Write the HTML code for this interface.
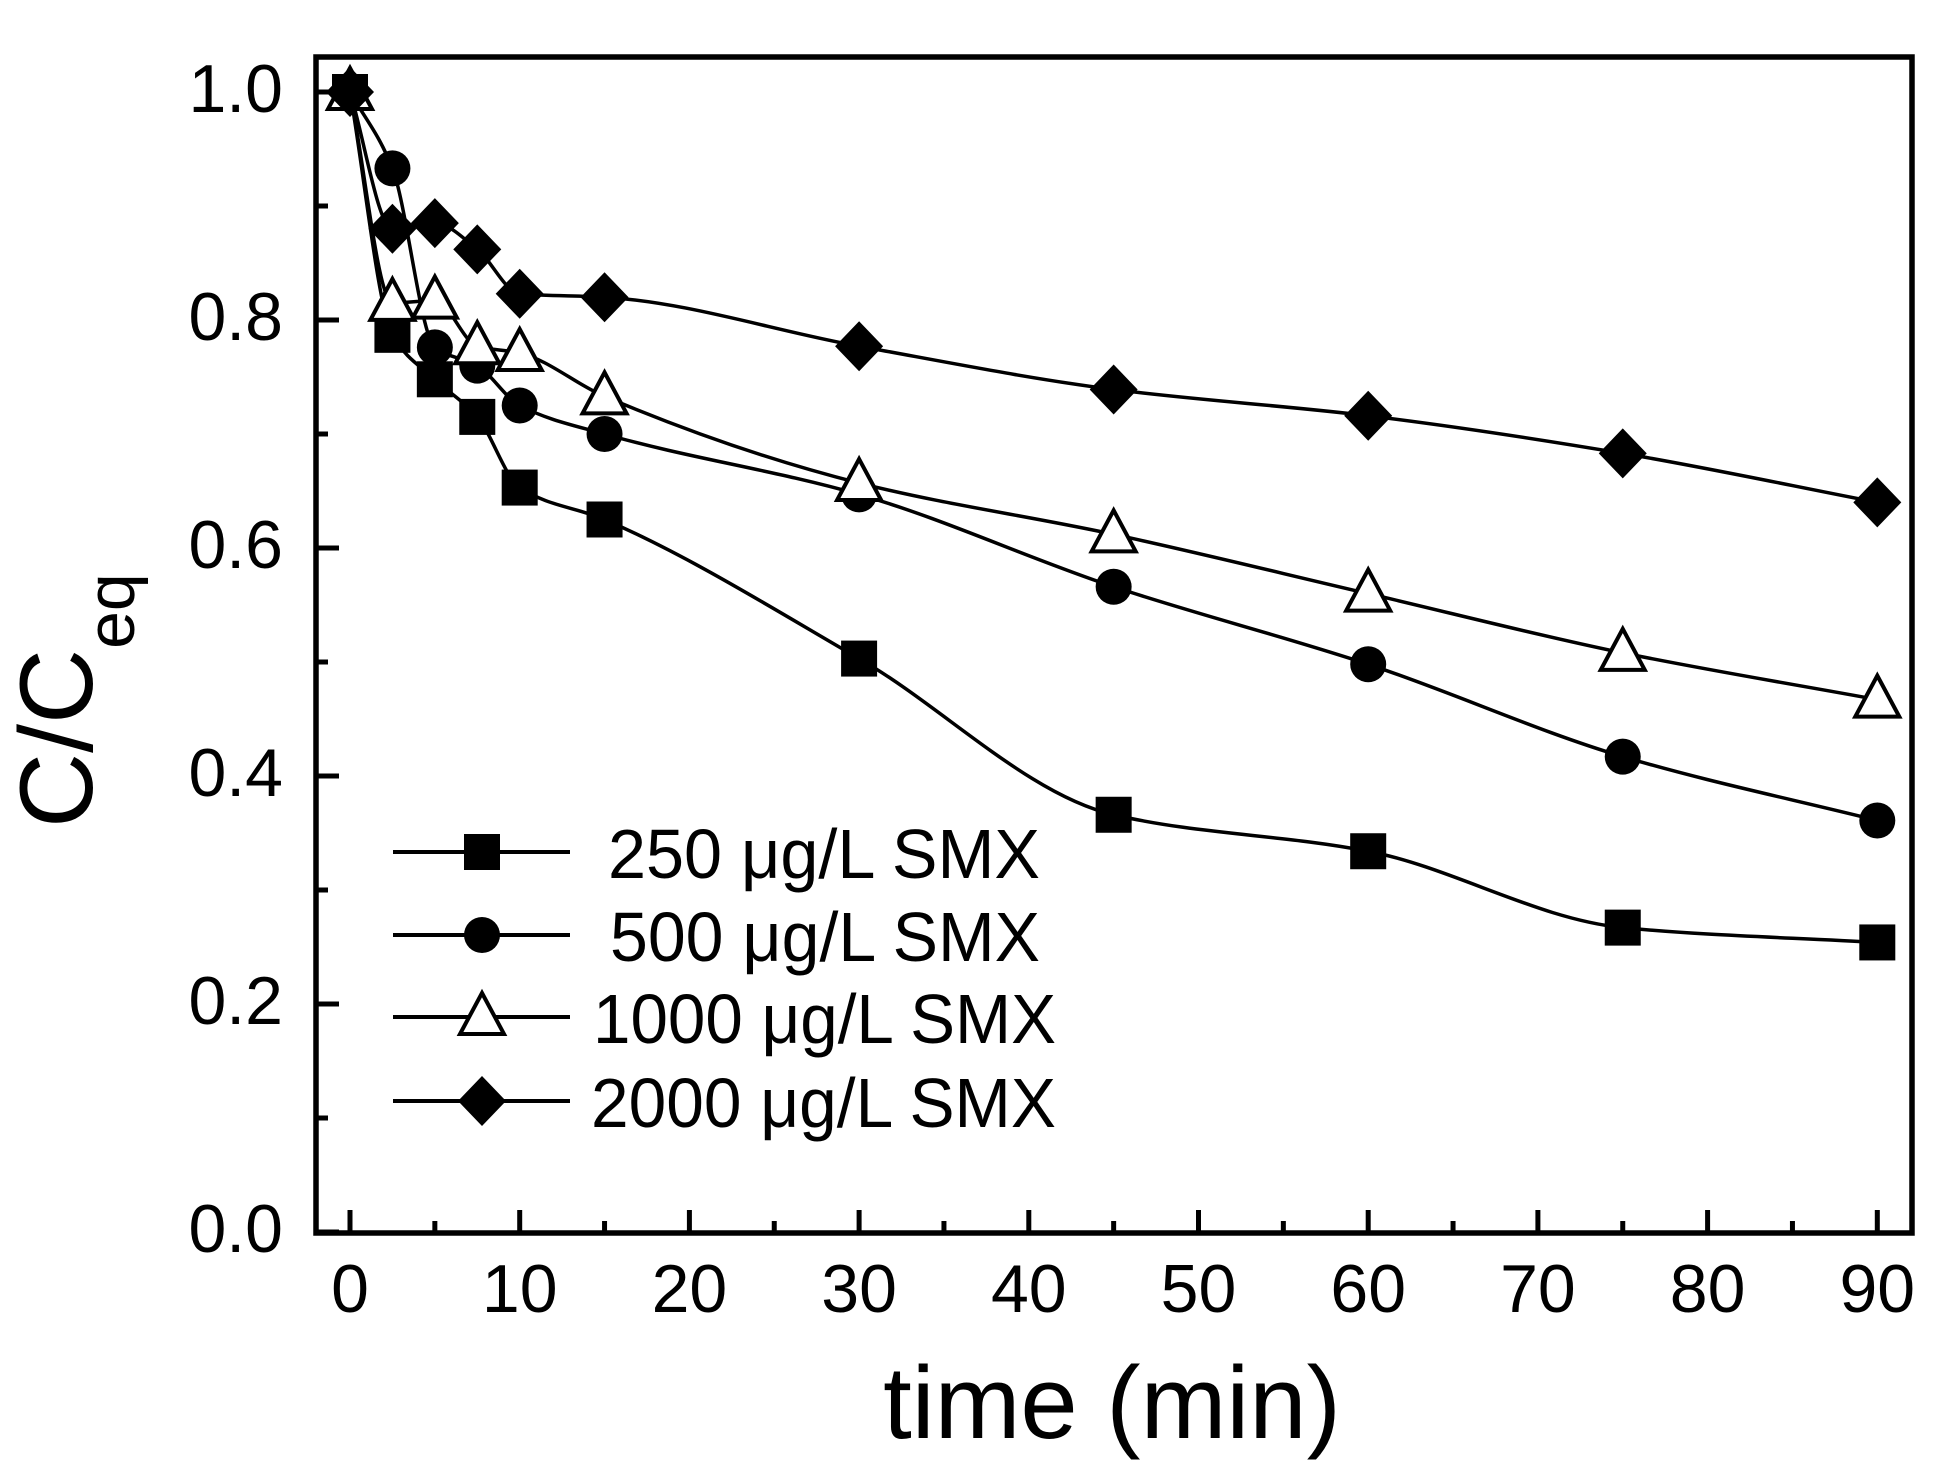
<!DOCTYPE html>
<html><head><meta charset="utf-8"><style>html,body{margin:0;padding:0;background:#fff}svg{display:block}</style></head>
<body>
<svg id="s" width="1942" height="1477" xmlns="http://www.w3.org/2000/svg" font-family="Liberation Sans, Arial, sans-serif">
<rect width="1942" height="1477" fill="#fff"/>
<g id="g"></g>
<rect x="316" y="57" width="1596" height="1176" fill="none" stroke="#000" stroke-width="5.5"/>
<text x="1112" y="1438" font-size="103" text-anchor="middle">time (min)</text>
<text transform="translate(92,828) rotate(-90)" font-size="104">C/C<tspan font-size="68" dy="42">eq</tspan></text>
<g font-size="70">
<text x="608" y="878" textLength="432" lengthAdjust="spacingAndGlyphs">250 μg/L SMX</text>
<text x="610" y="961" textLength="430" lengthAdjust="spacingAndGlyphs">500 μg/L SMX</text>
<text x="593" y="1043" textLength="463" lengthAdjust="spacingAndGlyphs">1000 μg/L SMX</text>
<text x="591" y="1127" textLength="465" lengthAdjust="spacingAndGlyphs">2000 μg/L SMX</text>
</g>
</svg>
<script>
const NS="http://www.w3.org/2000/svg",g=document.getElementById('g');
const X=t=>350+16.97*t, Y=v=>1232-1140*v;
function el(n,a,p){const e=document.createElementNS(NS,n);for(const k in a)e.setAttribute(k,a[k]);(p||g).appendChild(e);return e;}
for(let i=0;i<=10;i++){const y=Y(i/10),L=i%2?12:23;el('line',{x1:316,x2:316+L,y1:y,y2:y,stroke:'#000','stroke-width':5});
 if(i%2==0){const t=el('text',{x:283,y:y+20,'font-size':68,'text-anchor':'end'});t.textContent=(i/10).toFixed(1);}}
for(let i=0;i<=18;i++){const x=X(i*5),L=i%2?12:23;el('line',{x1:x,x2:x,y1:1233,y2:1233-L,stroke:'#000','stroke-width':5});
 if(i%2==0){const t=el('text',{x:x,y:1312,'font-size':68,'text-anchor':'middle'});t.textContent=i*5;}}
const T=[0,2.5,5,7.5,10,15,30,45,60,75,90];
const D=[
 ['sq',[1,0.787,0.748,0.715,0.653,0.625,0.503,0.366,0.334,0.267,0.254]],
 ['ci',[1,0.933,0.776,0.760,0.725,0.700,0.647,0.566,0.498,0.417,0.361]],
 ['tr',[1,0.815,0.817,0.777,0.771,0.733,0.657,0.612,0.560,0.508,0.467]],
 ['di',[1,0.880,0.885,0.862,0.823,0.820,0.777,0.739,0.716,0.683,0.640]]];
function path(P){const n=P.length,dx=[],s=[],m=[];
 for(let i=0;i<n-1;i++){dx[i]=P[i+1][0]-P[i][0];s[i]=(P[i+1][1]-P[i][1])/dx[i];}
 m[0]=s[0];m[n-1]=s[n-2];
 for(let i=1;i<n-1;i++){if(s[i-1]*s[i]<=0)m[i]=0;else{const w1=2*dx[i]+dx[i-1],w2=dx[i]+2*dx[i-1];m[i]=(w1+w2)/(w1/s[i-1]+w2/s[i]);}}
 let d='M'+P[0][0]+','+P[0][1];
 for(let i=0;i<n-1;i++){const h=dx[i]/3;d+=' C'+(P[i][0]+h)+','+(P[i][1]+m[i]*h)+' '+(P[i+1][0]-h)+','+(P[i+1][1]-m[i+1]*h)+' '+P[i+1][0]+','+P[i+1][1];}
 return d;}
function mk(type,x,y){
 if(type=='sq')el('rect',{x:x-18,y:y-18,width:36,height:36,fill:'#000'});
 else if(type=='ci')el('circle',{cx:x,cy:y,r:18,fill:'#000'});
 else if(type=='tr')el('polygon',{points:`${x},${y-24} ${x+22},${y+17} ${x-22},${y+17}`,fill:'#fff',stroke:'#000','stroke-width':4});
 else el('polygon',{points:`${x},${y-25} ${x+24},${y} ${x},${y+25} ${x-24},${y}`,fill:'#000'});
}
D.forEach(([t,v])=>{const P=T.map((tt,i)=>[X(tt),Y(v[i])]);el('path',{d:path(P),fill:'none',stroke:'#000','stroke-width':3.5});});
D.forEach(([t,v])=>{T.forEach((tt,i)=>mk(t,X(tt),Y(v[i])));});
[852,935,1017,1101].forEach((y,i)=>{el('line',{x1:393,x2:570,y1:y,y2:y,stroke:'#000','stroke-width':4});mk(D[i][0],482,y);});
</script>
</body></html>
